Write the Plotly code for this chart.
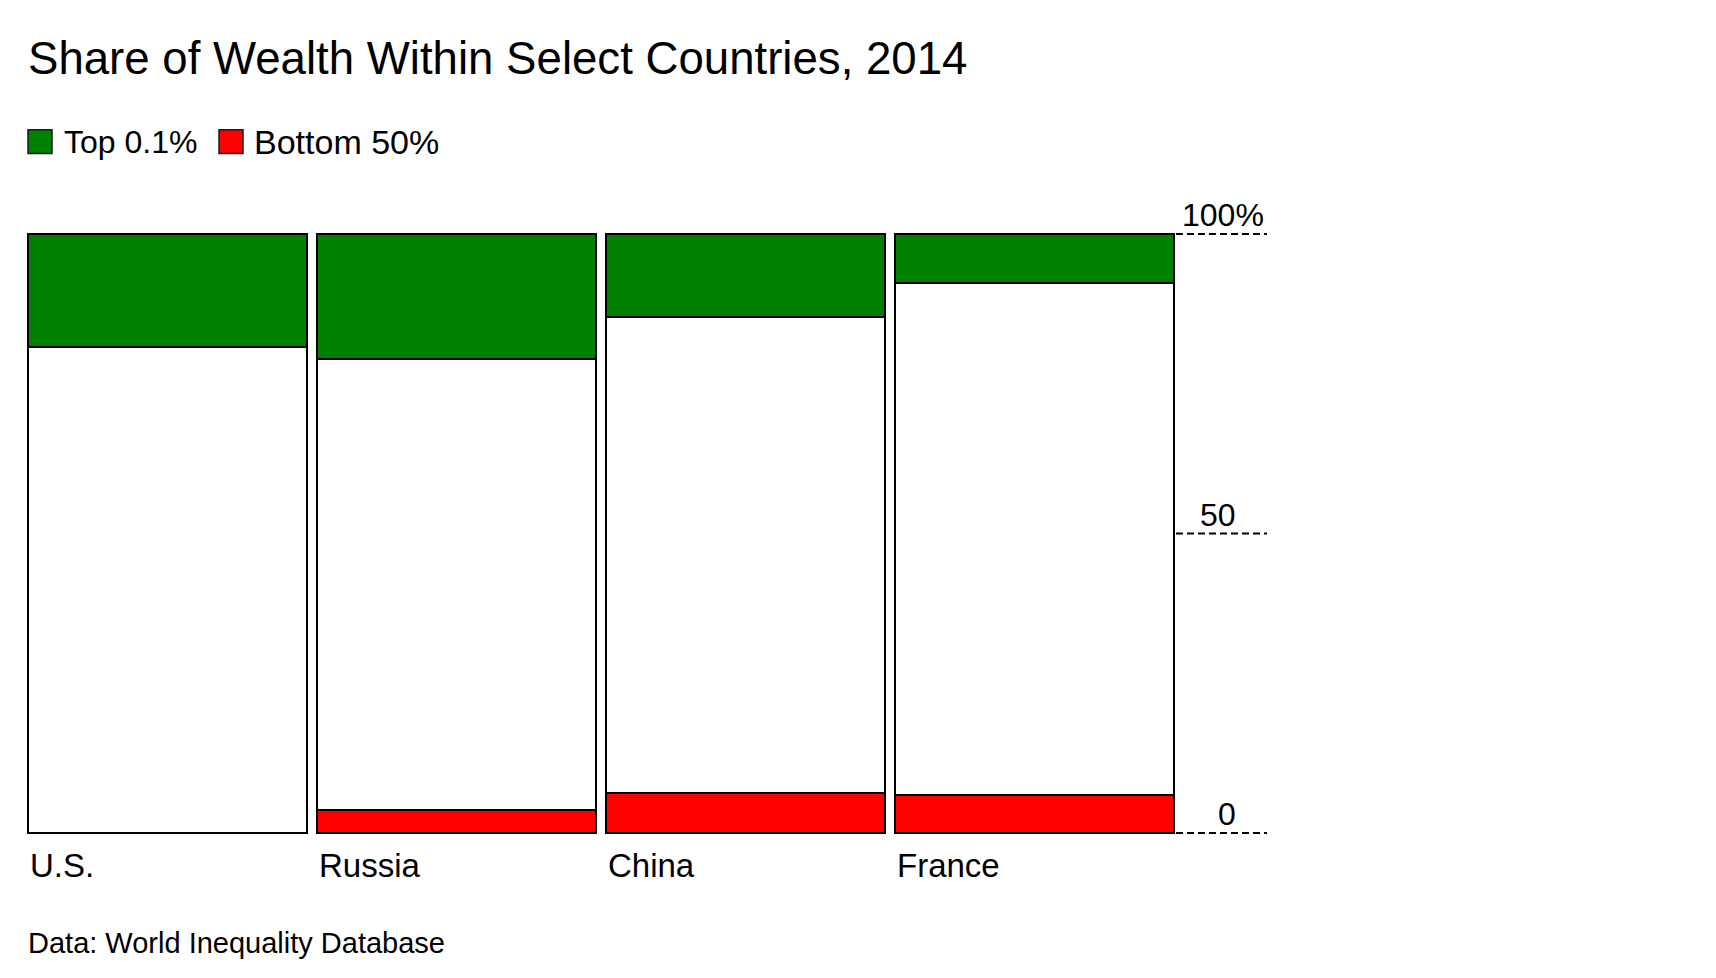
import plotly.graph_objects as go

# ---- data ----
countries = ["U.S.", "Russia", "China", "France"]
bottom_50 = [0.0, 3.8, 6.6, 6.4]
middle_49_9 = [81.1, 75.3, 79.6, 85.4]
top_0_1 = [18.9, 20.9, 13.8, 8.2]
y_ticks = [0, 50, 100]
y_tick_labels = ["0", "50", "100%"]
series_names = ["Top 0.1%", "Bottom 50%"]
title_text = "Share of Wealth Within Select Countries, 2014"
source_text = "Data: World Inequality Database"

GREEN = "#008000"
RED = "#ff0000"
FONT = "Liberation Sans, Arial, sans-serif"
W, H = 1716, 978
OFF = 8  # default page body margin

# layout geometry (page px)
L, R_EDGE = 23, 1280
PLOT_TOP, PLOT_BOT = 221.5, 845.5
YMIN, YMAX = -2, 102
XMIN, XMAX = -0.5, 3.85
BARGAP = 0.035

def px_to_paper_y(py):
    return (PLOT_BOT - py) / (PLOT_BOT - PLOT_TOP)

def px_to_paper_x(px):
    return (px - L) / (R_EDGE - L)

line = dict(color="#000000", width=2)
fig = go.Figure()
fig.add_trace(go.Bar(x=countries, y=bottom_50, name=series_names[1],
                     marker=dict(color=RED, line=line), showlegend=False))
fig.add_trace(go.Bar(x=countries, y=middle_49_9, name="Middle",
                     marker=dict(color="#ffffff", line=line), showlegend=False))
fig.add_trace(go.Bar(x=countries, y=top_0_1, name=series_names[0],
                     marker=dict(color=GREEN, line=line), showlegend=False))

shapes = []
annotations = []

# dashed reference lines + tick labels on the right
for v, lab in zip(y_ticks, y_tick_labels):
    shapes.append(dict(type="line", xref="x", yref="y",
                       x0=3.49, x1=3.805, y0=v, y1=v,
                       line=dict(color="#000000", width=2, dash="7px,4px")))
    annotations.append(dict(xref="x", yref="y", x=3.80 if lab.endswith("%") else 3.704,
                            y=v, yshift=19, text=lab, showarrow=False,
                            xanchor="right", yanchor="middle",
                            font=dict(family=FONT, size=32, color="#000000")))

# category labels, left-aligned under bars
for i, c in enumerate(countries):
    annotations.append(dict(xref="x", yref="paper", x=i - 0.5 + BARGAP / 2,
                            y=px_to_paper_y(866), text=c, showarrow=False,
                            xanchor="left", yanchor="middle",
                            font=dict(family=FONT, size=33, color="#000000")))

# title
annotations.append(dict(xref="paper", yref="paper", x=px_to_paper_x(26),
                        y=px_to_paper_y(58), text=title_text, showarrow=False,
                        xanchor="left", yanchor="middle",
                        font=dict(family=FONT, size=45.6, color="#000000")))

# legend (manual)
leg = [(series_names[0], GREEN, 28, 62, 32), (series_names[1], RED, 219, 252, 34)]
for name, col, sx, tx, fs in leg:
    shapes.append(dict(type="rect", xref="paper", yref="paper",
                       x0=px_to_paper_x(sx), x1=px_to_paper_x(sx + 24),
                       y0=px_to_paper_y(153), y1=px_to_paper_y(129),
                       fillcolor=col, line=dict(color="#1a1a1a", width=1.5)))
    annotations.append(dict(xref="paper", yref="paper", x=px_to_paper_x(tx),
                            y=px_to_paper_y(141), text=name, showarrow=False,
                            xanchor="left", yanchor="middle",
                            font=dict(family=FONT, size=fs, color="#000000")))

# source
annotations.append(dict(xref="paper", yref="paper", x=px_to_paper_x(26),
                        y=px_to_paper_y(944), text=source_text, showarrow=False,
                        xanchor="left", yanchor="middle",
                        font=dict(family=FONT, size=29, color="#000000")))

fig.update_layout(
    width=W, height=H,
    margin=dict(l=L - OFF, r=W - R_EDGE + OFF, t=PLOT_TOP - OFF,
                b=H - PLOT_BOT + OFF, pad=0),
    barmode="stack", bargap=BARGAP,
    plot_bgcolor="#ffffff", paper_bgcolor="#ffffff",
    xaxis=dict(range=[XMIN, XMAX], showgrid=False, showticklabels=False,
               zeroline=False, showline=False, ticks=""),
    yaxis=dict(range=[YMIN, YMAX], showgrid=False, showticklabels=False,
               zeroline=False, showline=False, ticks=""),
    shapes=shapes, annotations=annotations,
    font=dict(family=FONT, color="#000000"),
)

fig.write_html("out.html")
